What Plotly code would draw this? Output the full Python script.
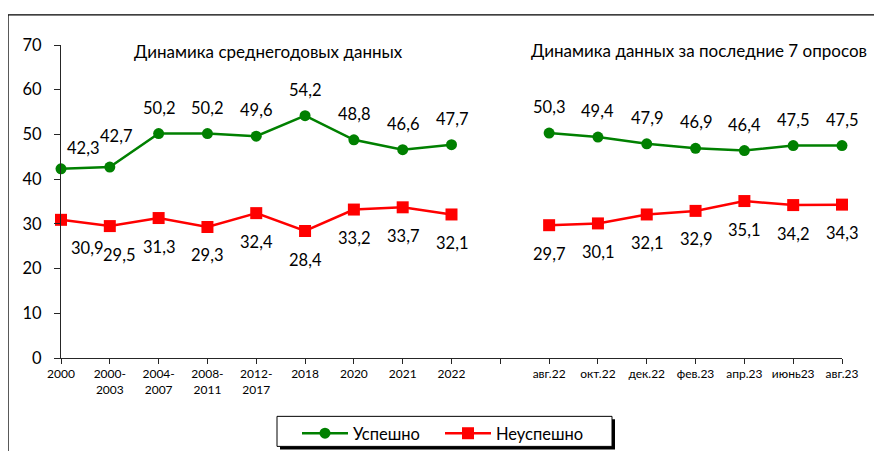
import plotly.graph_objects as go

# ---- data ----
cats_annual = ["2000", "2000-<br>2003", "2004-<br>2007", "2008-<br>2011", "2012-<br>2017",
               "2018", "2020", "2021", "2022"]
cats_recent = ["авг.22", "окт.22", "дек.22", "фев.23", "апр.23", "июнь23", "авг.23"]
success_annual = [42.3, 42.7, 50.2, 50.2, 49.6, 54.2, 48.8, 46.6, 47.7]
fail_annual = [30.9, 29.5, 31.3, 29.3, 32.4, 28.4, 33.2, 33.7, 32.1]
success_recent = [50.3, 49.4, 47.9, 46.9, 46.4, 47.5, 47.5]
fail_recent = [29.7, 30.1, 32.1, 32.9, 35.1, 34.2, 34.3]
subtitle_annual = "Динамика среднегодовых данных"
subtitle_recent = "Динамика данных за последние 7 опросов"
series_names = ["Успешно", "Неуспешно"]

# combined category axis with one empty slot between the two blocks
labels = cats_annual + [""] + cats_recent
xs = list(range(len(labels)))
success = success_annual + [None] + success_recent
fail = fail_annual + [None] + fail_recent

FONT = "Lato, Carlito, Calibri, sans-serif"
GREEN = "#008000"
RED = "#FF0000"
W, H = 882, 451
OFF = 8  # page body margin
# plot area in page pixels: x 61..842, y 45..357.7
ML = 61 - OFF
MT = 45 - OFF
MR = W - (842 - OFF)
MB = H - (357.7 - OFF)
PW, PH = W - ML - MR, H - MT - MB


def px_x(p):
    return (p - OFF - ML) / PW


def px_y(p):
    return (H - MB - (p - OFF)) / PH


fig = go.Figure()
fig.add_trace(go.Scatter(x=xs, y=success, name=series_names[0], mode="lines+markers",
                         line=dict(color=GREEN, width=2.5),
                         marker=dict(symbol="circle", size=11, color=GREEN),
                         cliponaxis=False, connectgaps=False))
fig.add_trace(go.Scatter(x=xs, y=fail, name=series_names[1], mode="lines+markers",
                         line=dict(color=RED, width=2.5),
                         marker=dict(symbol="square", size=12, color=RED),
                         cliponaxis=False, connectgaps=False))


def fmt(v):
    return f"{v:.1f}".replace(".", ",")


ann = []
green_dx = {0: 22, 1: 6}
green_dy = {0: 21, 1: 31}
red_dx = {0: 26, 1: 9}
for i, v in enumerate(success):
    if v is None:
        continue
    ann.append(dict(x=i, y=v, xref="x", yref="y", text=fmt(v), showarrow=False,
                    xshift=green_dx.get(i, 0), yshift=green_dy.get(i, 26),
                    font=dict(family=FONT, size=16.5, color="#000")))
for i, v in enumerate(fail):
    if v is None:
        continue
    ann.append(dict(x=i, y=v, xref="x", yref="y", text=fmt(v), showarrow=False,
                    xshift=red_dx.get(i, 0), yshift=-28.5,
                    font=dict(family=FONT, size=16.5, color="#000")))

ann.append(dict(x=px_x(268), y=px_y(51.5), xref="paper", yref="paper",
                xanchor="center", yanchor="middle",
                text=subtitle_annual, showarrow=False,
                font=dict(family=FONT, size=17, color="#000")))
ann.append(dict(x=px_x(698.5), y=px_y(50.5), xref="paper", yref="paper",
                xanchor="center", yanchor="middle",
                text=subtitle_recent, showarrow=False,
                font=dict(family=FONT, size=17, color="#000")))

shapes = [
    # outer chart frame (extends beyond the visible page on the right and bottom)
    dict(type="rect", xref="paper", yref="paper", x0=px_x(8), x1=px_x(900),
         y0=px_y(470), y1=px_y(15), line=dict(color="#000", width=1.3), layer="below"),
    # legend shadow and box
    dict(type="rect", xref="paper", yref="paper", x0=px_x(280), x1=px_x(615),
         y0=px_y(449), y1=px_y(419), line=dict(width=0), fillcolor="#000", layer="above"),
    dict(type="rect", xref="paper", yref="paper", x0=px_x(277), x1=px_x(612),
         y0=px_y(446), y1=px_y(416), line=dict(color="#000", width=1),
         fillcolor="white", layer="above"),
]

fig.update_layout(
    width=W, height=H,
    margin=dict(l=ML, r=MR, t=MT, b=MB, autoexpand=False),
    paper_bgcolor="white", plot_bgcolor="white",
    font=dict(family=FONT, color="#000"),
    showlegend=True,
    legend=dict(orientation="h", xref="container", yref="container",
                x=(297 - OFF) / W, y=1 - (416 - OFF) / H, xanchor="left", yanchor="top",
                bgcolor="rgba(0,0,0,0)", borderwidth=0,
                font=dict(family=FONT, size=16.5, color="#000"),
                itemwidth=46, entrywidth=82, entrywidthmode="pixels"),
    annotations=ann,
    shapes=shapes,
    xaxis=dict(range=[0, len(labels) - 1], tickmode="array", tickvals=xs, ticktext=labels,
               showline=True, linecolor="#262626", linewidth=1, ticks="outside",
               ticklen=5, tickcolor="#262626", showgrid=False, zeroline=False,
               tickfont=dict(family=FONT, size=12, color="#000"), tickangle=0,
               automargin=False),
    yaxis=dict(range=[0, 70], dtick=10, showline=True, linecolor="#262626", linewidth=1,
               ticks="outside", ticklen=6, tickcolor="#262626", showgrid=False,
               zeroline=False, tickfont=dict(family=FONT, size=16.5, color="#000"),
               ticklabelstandoff=9, automargin=False),
)

fig.write_html("out.html")
